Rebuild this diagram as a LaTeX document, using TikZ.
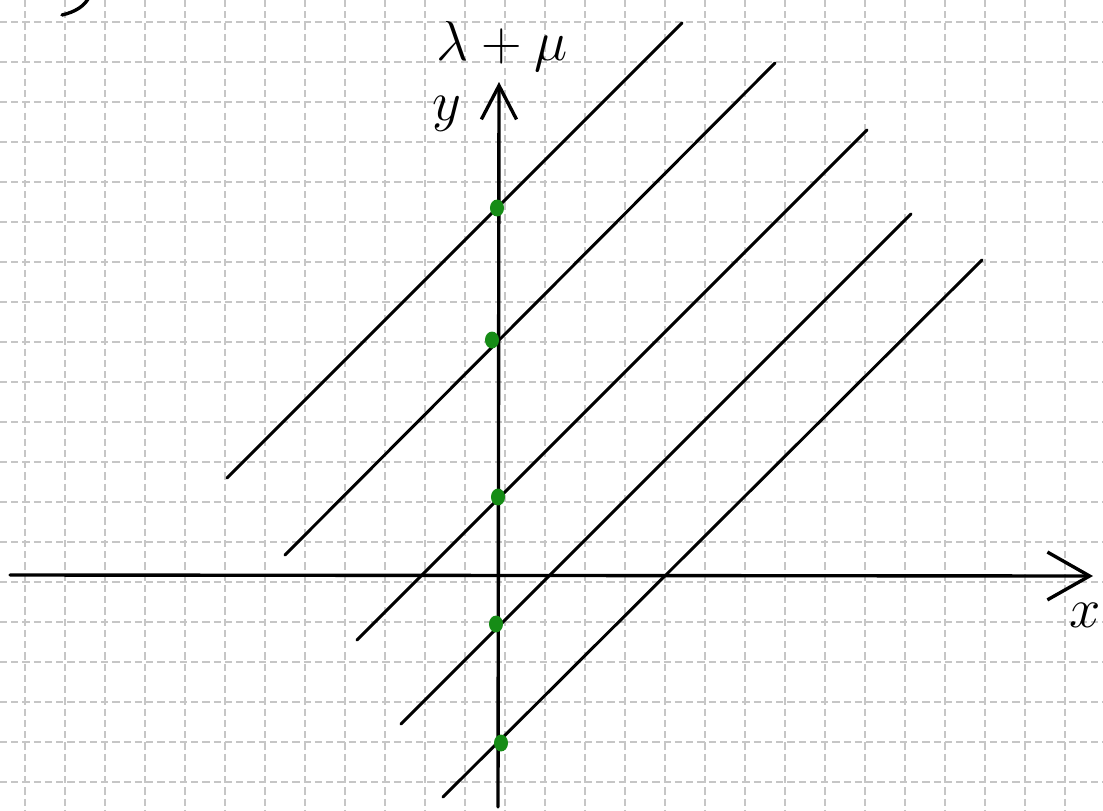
\RequirePackage{fix-cm}
\documentclass[tikz,border=0pt]{standalone}
\usepackage{tikz}
\usetikzlibrary{arrows.meta,shapes.geometric}
\definecolor{penGreen}{RGB}{22,140,22}
\definecolor{gridGray}{RGB}{198,198,198}

\begin{document}
\begin{tikzpicture}[x=0.025cm, y=-0.025cm,
	grid line/.style={draw=gridGray, line width=1pt, dash pattern=on 5pt off 3pt},
	axis/.style={line width=2.4pt, line cap=round},
	level/.style={line width=2.1pt, line cap=round},
	dot/.style={ellipse, fill=penGreen, inner sep=0pt, minimum width=10pt, minimum height=12pt},
	lbl/.style={font=\fontsize{40}{48}\selectfont}]
	\useasboundingbox (0,0) rectangle (1103,810);
	% squared paper
	\foreach \gx in {25,65,...,1065} \draw[grid line] (\gx,0) -- (\gx,810);
	\foreach \gy in {22,62,...,782} \draw[grid line] (0,\gy) -- (1103,\gy);
	% axes
	\coordinate (xl) at (10,575);
	\coordinate (xr) at (1093,576);
	\coordinate (yb) at (498,807);
	\coordinate (yt) at (499,82);
	\draw[axis, -{Straight Barb[length=30pt,width=34pt]}] (xl) -- (xr);
	\draw[axis, -{Straight Barb[length=24pt,width=25pt]}] (yb) -- (yt);
	\node[lbl] (xlab) at (1085,615) {$x$};
	\node[lbl, anchor=base] (ylab) at (447,120) {$y$};
	\node[lbl, anchor=base] (lmlab) at (502,60) {$\lambda+\mu$};
	% parallel lines
	\foreach \a/\b [count=\i] in {{227,478}/{682,23}, {285,555}/{775,63}, {357,640}/{867,130}, {401,724}/{911,214}, {443,797}/{982,260}} {
		\coordinate (lo\i) at (\a);
		\coordinate (hi\i) at (\b);
		\draw[level] (lo\i) -- (hi\i);
	}
	% intercepts
	\foreach \p [count=\i] in {{497,208},{492,340},{498,497},{496,624},{501,743}}
		\node[dot] (d\i) at (\p) {};
	% cut-off stroke, top left
	\draw[line width=2.4pt, line cap=round] (62,15) .. controls (75,12) and (85,6) .. (89,-3);
\end{tikzpicture}
\end{document}
